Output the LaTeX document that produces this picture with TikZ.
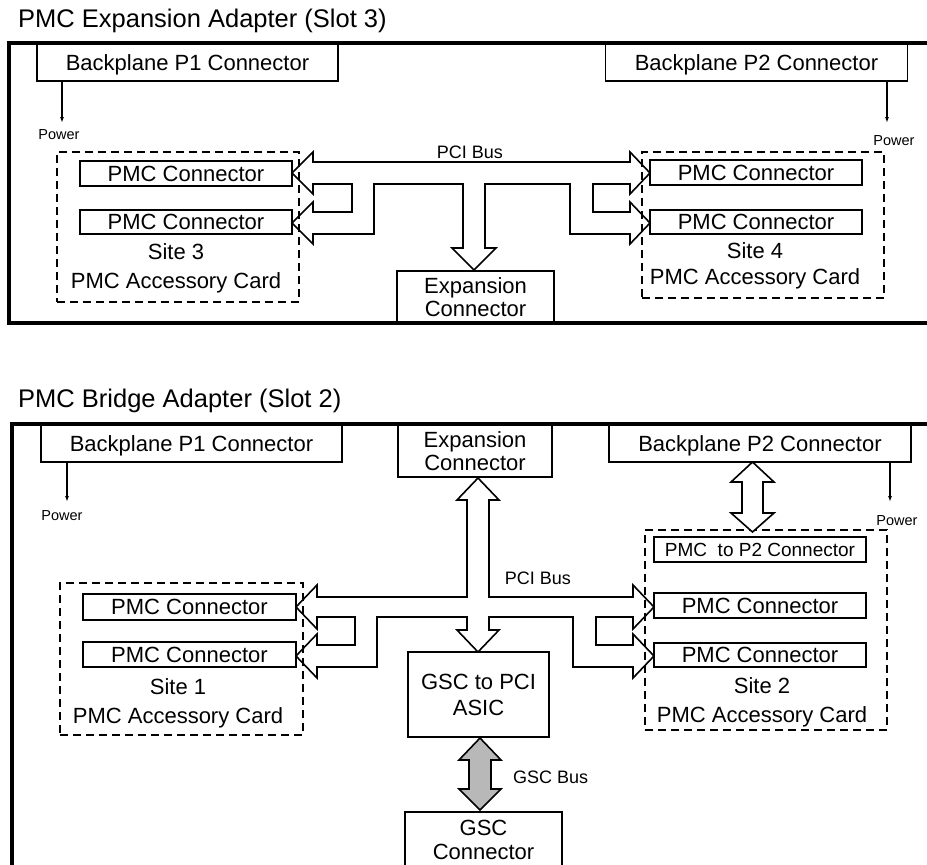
\documentclass[tikz,border=0pt]{standalone}
\usepackage{fontspec}
\setmainfont{Liberation Sans}
\usetikzlibrary{arrows.meta}
\newcommand\bodyfont{\fontsize{22}{23}\selectfont}
\newcommand\ttlfont{\fontsize{25.5}{28}\selectfont}
\newcommand\pwrfont{\fontsize{14.5}{16}\selectfont}
\newcommand\busfont{\fontsize{18}{20}\selectfont}
\newcommand\ptwofont{\fontsize{19}{20}\selectfont}
\tikzset{
  box/.style={draw, line width=1.6pt, inner sep=0pt, font=\bodyfont, text depth=0pt},
  mbox/.style={draw, line width=1.6pt, inner sep=0pt, align=center},
  dbox/.style={draw, line width=1.5pt, dash pattern=on 8pt off 5pt, inner sep=0pt},
  lbl/.style={inner sep=0pt, align=center},
  frame/.style={line width=3.5pt},
  fat/.style={line width=1.6pt, line join=miter},
  pwr/.style={line width=1.2pt, -{Latex[length=6pt,width=4pt]}},
  pwrlbl/.style={inner sep=0pt, font=\pwrfont},
  buslbl/.style={inner sep=0pt, font=\busfont},
  ttl/.style={anchor=base west, inner sep=0pt, font=\ttlfont}
}
\begin{document}
\begin{tikzpicture}[x=1pt,y=-1pt]
\useasboundingbox (0,0) rectangle (927,865);

% ================= TOP: PMC Expansion Adapter =================
\node[ttl] (t1) at (18,27) {PMC Expansion Adapter (Slot 3)};
\draw[frame] (930,43) -- (9,43) -- (9,323) -- (930,323);

\node[box, minimum width=301pt, minimum height=37pt] (bp1t) at (187.5,62.5) {Backplane P1 Connector};
\node[box, minimum width=302pt, minimum height=37pt] (bp2t) at (756.5,62.5) {Backplane P2 Connector};
\node[mbox, font=\fontsize{22}{23}\selectfont, minimum width=157pt, minimum height=52pt] (expt) at (475.5,297) {Expansion\\Connector};

\node[dbox, minimum width=242pt, minimum height=150pt] (site3) at (178,227) {};
\node[box, minimum width=212pt, minimum height=25pt] (pmc3a) at (186,173.5) {PMC Connector};
\node[box, minimum width=212pt, minimum height=24pt] (pmc3b) at (186,222) {PMC Connector};
\node[lbl, font=\fontsize{22}{29}\selectfont] (lab3) at (176,268) {Site 3\\PMC Accessory Card};

\node[dbox, minimum width=242pt, minimum height=146pt] (site4) at (763,225) {};
\node[box, minimum width=212pt, minimum height=25pt] (pmc4a) at (756,172.5) {PMC Connector};
\node[box, minimum width=212pt, minimum height=24pt] (pmc4b) at (756,222) {PMC Connector};
\node[lbl, font=\fontsize{22}{26}\selectfont] (lab4) at (755,266) {Site 4\\PMC Accessory Card};

\coordinate (pw1) at (62,123);
\coordinate (pw2) at (887,123);
\draw[pwr] (bp1t.south -| pw1) -- (pw1);
\draw[pwr] (bp2t.south -| pw2) -- (pw2);
\node[pwrlbl] (pl1) at (59,135) {Power};
\node[pwrlbl] (pl2) at (894,141) {Power};

\node[buslbl] (pci1) at (470,152) {PCI Bus};

\draw[fat] (292,173) -- (313,152) -- (313,162) -- (630,162) -- (630,152) -- (650,173)
  -- (630,194) -- (630,184) -- (593,184) -- (593,212) -- (630,212) -- (630,202)
  -- (650,223) -- (630,244) -- (630,234) -- (570,234) -- (570,184) -- (485,184)
  -- (485,248) -- (496,248) -- (474,270) -- (452,248) -- (463,248) -- (463,184)
  -- (374,184) -- (374,234) -- (313,234) -- (313,244) -- (292,223) -- (313,202)
  -- (313,212) -- (352,212) -- (352,184) -- (313,184) -- (313,194) -- cycle;

% ================= BOTTOM: PMC Bridge Adapter =================
\node[ttl] (t2) at (18,407) {PMC Bridge Adapter (Slot 2)};
\draw[frame] (930,424) -- (12,424) -- (12,870);

\node[box, minimum width=301pt, minimum height=37pt] (bp1b) at (191.5,443.5) {Backplane P1 Connector};
\node[mbox, font=\fontsize{22}{23}\selectfont, minimum width=154pt, minimum height=52pt] (expb) at (475,451) {Expansion\\Connector};
\node[box, minimum width=302pt, minimum height=37pt] (bp2b) at (760,443.5) {Backplane P2 Connector};

\coordinate (pw3) at (67,502);
\coordinate (pw4) at (890,502);
\draw[pwr] (bp1b.south -| pw3) -- (pw3);
\draw[pwr] (bp2b.south -| pw4) -- (pw4);
\node[pwrlbl] (pl3) at (62,516) {Power};
\node[pwrlbl] (pl4) at (897,521) {Power};

\node[dbox, minimum width=243pt, minimum height=152pt] (site1) at (181.5,659) {};
\node[box, minimum width=213pt, minimum height=26pt] (pmc1a) at (189.5,607) {PMC Connector};
\node[box, minimum width=213pt, minimum height=25pt] (pmc1b) at (189.5,654.5) {PMC Connector};
\node[lbl, font=\fontsize{22}{29}\selectfont] (lab1) at (178,703) {Site 1\\PMC Accessory Card};

\node[dbox, minimum width=242pt, minimum height=200pt] (site2) at (766,630) {};
\node[box, font=\ptwofont, minimum width=212pt, minimum height=25pt] (p2c) at (760,549.5) {PMC\ \ to P2 Connector};
\node[box, minimum width=212pt, minimum height=25pt] (pmc2a) at (760,605.5) {PMC Connector};
\node[box, minimum width=212pt, minimum height=24pt] (pmc2b) at (760,655) {PMC Connector};
\node[lbl, font=\fontsize{22}{29}\selectfont] (lab2) at (762,702) {Site 2\\PMC Accessory Card};

\node[mbox, font=\fontsize{22}{26}\selectfont, minimum width=141pt, minimum height=85pt] (asic) at (478.5,694.5) {GSC to PCI\\ASIC};
\node[mbox, font=\fontsize{22}{24}\selectfont, minimum width=157pt, minimum height=56pt] (gscc) at (483.5,840) {GSC\\Connector};

\node[buslbl] (pci2) at (538,578) {PCI Bus};
\node[buslbl, anchor=west] (gscb) at (513,777) {GSC Bus};

\draw[fat] (296,607) -- (317,585) -- (317,597) -- (467,597) -- (467,500) -- (457,500)
  -- (478,478) -- (499,500) -- (489,500) -- (489,597) -- (633,597) -- (633,585)
  -- (654,607) -- (633,629) -- (633,617) -- (596,617) -- (596,645) -- (633,645)
  -- (633,634) -- (654,656) -- (633,678) -- (633,667) -- (573,667) -- (573,617)
  -- (489,617) -- (489,630) -- (499,630) -- (478,652) -- (457,630) -- (467,630)
  -- (467,617) -- (377,617) -- (377,667) -- (317,667) -- (317,678) -- (296,656)
  -- (317,634) -- (317,645) -- (355,645) -- (355,617) -- (317,617) -- (317,629) -- cycle;

% P2 double arrow
\draw[fat, fill=white] (752.5,462) -- (774,482) -- (763,482) -- (763,513) -- (774,513)
  -- (752.5,532) -- (731,513) -- (742,513) -- (742,482) -- (731,482) -- cycle;

% GSC bus double arrow
\draw[fat, fill=black!28] (480,738) -- (501,760) -- (491,760) -- (491,789) -- (501,789)
  -- (480,810) -- (459,789) -- (469,789) -- (469,760) -- (459,760) -- cycle;
\end{tikzpicture}
\end{document}
